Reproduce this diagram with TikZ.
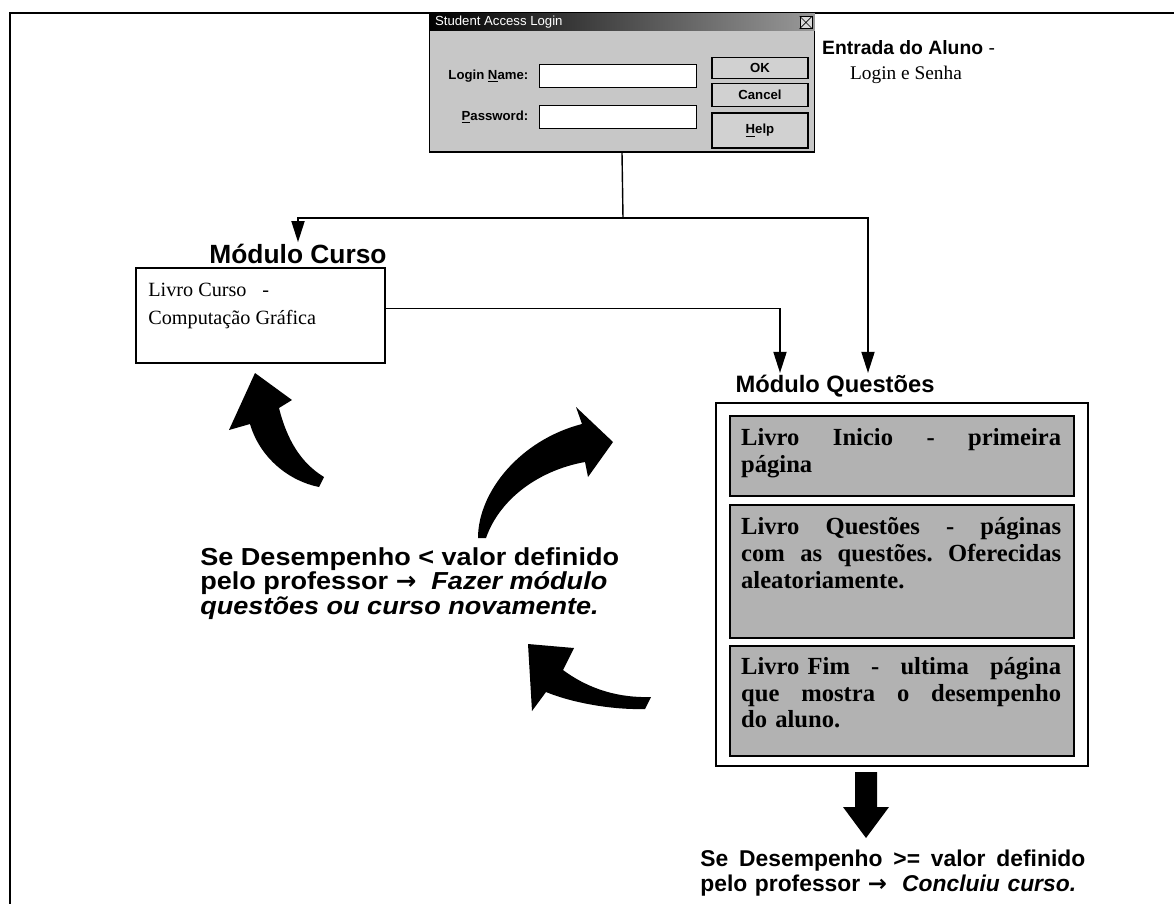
\documentclass[tikz,border=0pt]{standalone}
\usepackage{fontspec}
\setmainfont{Liberation Serif}
\setsansfont{Liberation Sans}
\newfontfamily\widesans[FakeStretch=1.1]{Liberation Sans}
\newfontfamily\arrowfont{DejaVu Sans}
\usetikzlibrary{arrows.meta,calc,positioning}

\tikzset{
  modlbl/.style={font=\sffamily\bfseries\fontsize{14}{16}\selectfont, inner sep=1pt},
  conn/.style={line width=0.8pt, -{Triangle[length=12pt,width=7.5pt]}},
  cursobox/.style={draw, line width=0.8pt, minimum width=4.98cm, minimum height=1.9cm},
  questbox/.style={draw, line width=0.8pt, minimum width=7.44cm, minimum height=7.26cm},
  bookbox/.style={draw, line width=1.4pt, fill=black!30, minimum width=6.88cm, inner sep=0pt},
  booktxt/.style={anchor=north west, text width=6.4cm, align=left, inner sep=0pt,
    font=\bfseries\fontsize{14}{15.3}\selectfont},
  condtxt/.style={font=\widesans\bfseries\fontsize{14}{14}\selectfont, inner sep=0pt, align=left},
  dlgbox/.style={draw, line width=0.6pt, fill=black!22},
  winfield/.style={draw, fill=white, minimum width=3.14cm, minimum height=0.46cm, inner sep=0pt},
  winlbl/.style={font=\sffamily\bfseries\fontsize{7.5}{9}\selectfont, inner sep=1pt},
  winbtn/.style={draw, line width=0.8pt, fill=black!18, minimum width=1.92cm, inner sep=0pt,
    font=\sffamily\bfseries\fontsize{7.5}{9}\selectfont},
}
\newcommand{\rarr}{{\arrowfont\bfseries →}}

\begin{document}
\begin{tikzpicture}[x=0.02cm, y=-0.02cm]
  \useasboundingbox (0,0) rectangle (1174,904);
  \draw[line width=1.3pt] (1174,13) -- (10,13) -- (10,904);

  % janela de login
  \node[dlgbox, minimum width=7.7cm, minimum height=2.76cm] (dlg) at (622,83) {};
  \shade[left color=black, right color=black!40] (dlg.north west) rectangle ($(dlg.north east)+(0,17)$);
  \node[anchor=west, text=white, font=\sffamily\fontsize{7.5}{9}\selectfont, inner sep=1pt]
    (dlgtitle) at ($(dlg.north west)+(4,9)$) {Student Access Login};
  \node[draw, fill=black!15, minimum width=0.24cm, minimum height=0.24cm, inner sep=0pt]
    (closebtn) at ($(dlg.north east)+(-9,9)$) {};
  \draw (closebtn.north west) -- (closebtn.south east) (closebtn.north east) -- (closebtn.south west);
  \node[winfield] (namefld) at (618,76) {};
  \node[winfield] (passfld) at (618,117) {};
  \node[winlbl, left=5pt of namefld] (namelbl) {Login \underline{N}ame:};
  \node[winlbl, left=5pt of passfld] (passlbl) {\underline{P}assword:};
  \node[winbtn, minimum height=0.42cm] (okbtn) at (760,68) {OK};
  \node[winbtn, minimum height=0.46cm, below=2pt of okbtn] (cancelbtn) {Cancel};
  \node[winbtn, minimum height=0.7cm, below=3pt of cancelbtn] (helpbtn) {\underline{H}elp};

  \node[anchor=west, font=\sffamily\fontsize{11}{13}\selectfont, inner sep=1pt]
    (entrada) at (820,48) {{\bfseries Entrada do Aluno} -};
  \node[font=\fontsize{11}{13}\selectfont, inner sep=1pt] (senha) at (906,75) {Login e Senha};

  % modulos
  \coordinate (split) at (623,218);
  \node[modlbl, font=\sffamily\bfseries\fontsize{15}{17}\selectfont] (cursolbl) at (298,254) {Módulo Curso};
  \node[cursobox] (curso) at (260.5,315.5) {};
  \node[anchor=north west, align=left, font=\fontsize{11.5}{13}\selectfont, inner sep=0pt]
    (cursotxt) at (148,283) {Livro Curso\hspace{9pt}-\\[3pt]Computação Gráfica};

  \node[modlbl, font=\sffamily\bfseries\fontsize{13.5}{16}\selectfont] (questlbl) at (835,386) {Módulo Questões};
  \node[questbox] (quest) at (902,584.5) {};
  \node[bookbox, minimum height=1.6cm] (bkinicio) at (902,456) {};
  \node[bookbox, minimum height=2.66cm] (bkquest) at (902,571.5) {};
  \node[bookbox, minimum height=2.2cm] (bkfim) at (902,701) {};
  \node[booktxt] (txinicio) at ($(bkinicio.north west)+(12,13)$)
    {Livro\hfill Inicio\hfill -\hfill primeira\\página};
  \node[booktxt] (txquest) at ($(bkquest.north west)+(12,13)$)
    {Livro\hfill Questões\hfill -\hfill páginas\\com\hfill as\hfill questões.\hfill Oferecidas\\aleatoriamente.};
  \node[booktxt] (txfim) at ($(bkfim.north west)+(12,12)$)
    {Livro Fim\hfill -\hfill ultima\hfill página\\que\hfill mostra\hfill o\hfill desempenho\\do aluno.};

  \draw[line width=0.8pt] (dlg.south) -- (split);
  \draw[conn] (split) -| (cursolbl.north);
  \draw[conn] (split) -| ($(questlbl.north)+(33,0)$);
  \draw[conn] ($(curso.east)+(0,-7)$) -| ($(questlbl.north)+(-55,0)$);

  % setas de retorno
  \fill (255,373) -- (292,400) -- (279,408) .. controls (287,440) and (301,463) .. (324,477)
    -- (319,487) .. controls (289,481) and (260,458) .. (250,424) -- (229,430) -- cycle;
  \fill (613,442) -- (588,477) -- (585,462) .. controls (540,470) and (500,498) .. (486,538)
    -- (478,538) .. controls (478,492) and (520,440) .. (582,424) -- (576,407) -- cycle;
  \fill (528,644) -- (574,648) -- (563,670) .. controls (590,690) and (620,698) .. (651,697)
    -- (645,709) .. controls (610,710) and (570,702) .. (546,692) -- (532,711) -- cycle;
  \fill (855,772) -- (877,772) -- (877,807) -- (889,807) -- (866,838) -- (843,807) -- (855,807) -- cycle;

  \node[condtxt, anchor=north west] (refazer) at (200,547)
    {Se Desempenho < valor definido\\pelo professor \rarr\ \ \textit{Fazer módulo}\\\textit{questões ou curso novamente.}};
  \node[condtxt, font=\sffamily\bfseries\fontsize{13}{14}\selectfont, anchor=north west, text width=7.7cm]
    (concluiu) at (700,850)
    {Se\hfill Desempenho\hfill >=\hfill valor\hfill definido\\pelo professor \rarr\ \ \textit{Concluiu curso.}};
\end{tikzpicture}
\end{document}
